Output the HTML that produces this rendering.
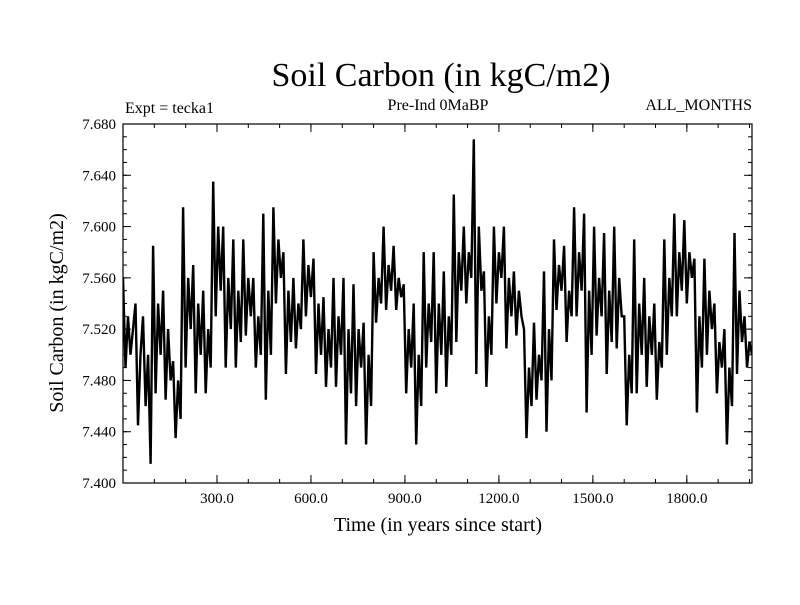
<!DOCTYPE html>
<html><head><meta charset="utf-8"><style>
html,body{margin:0;padding:0;background:#fff;}
svg text{font-family:"Liberation Serif",serif;fill:#000;}
</style></head><body>
<svg id="chart" width="800" height="600" viewBox="0 0 800 600" xmlns="http://www.w3.org/2000/svg">
<rect x="0" y="0" width="800" height="600" fill="#fff"/>
<defs><clipPath id="plotclip"><rect x="123" y="124" width="629" height="359"/></clipPath></defs>
<text x="441" y="86" font-size="34" text-anchor="middle">Soil Carbon (in kgC/m2)</text>
<text x="125" y="113" font-size="16">Expt = tecka1</text>
<text x="438" y="110" font-size="16" text-anchor="middle">Pre-Ind 0MaBP</text>
<text x="752" y="110" font-size="16" text-anchor="end">ALL_MONTHS</text>
<text x="438" y="531" font-size="20" text-anchor="middle">Time (in years since start)</text>
<text x="0" y="0" font-size="20" text-anchor="middle" transform="translate(63,313) rotate(-90)">Soil Carbon (in kgC/m2)</text>
<g id="axes"></g>
<g id="series" clip-path="url(#plotclip)"></g>
<rect x="123" y="124" width="629" height="359" fill="none" stroke="#000" stroke-width="1.2"/>
</svg>
<script>
const yTicks = [7.400, 7.440, 7.480, 7.520, 7.560, 7.600, 7.640, 7.680];
const xTicks = [300, 600, 900, 1200, 1500, 1800];
const xTickLabels = ["300.0", "600.0", "900.0", "1200.0", "1500.0", "1800.0"];
const yearStep = 8;
const values = [
7.56,7.49,7.53,7.50, 7.52,7.54,7.445,7.50, 7.53,7.46,7.50,7.415, 7.585,7.47,7.54,7.50,
7.55,7.465,7.52,7.48, 7.495,7.435,7.48,7.45, 7.615,7.49,7.56,7.52, 7.57,7.47,7.54,7.50,
7.55,7.47,7.52,7.49, 7.635,7.53,7.60,7.55, 7.60,7.49,7.56,7.52, 7.59,7.49,7.55,7.51,
7.59,7.515,7.56,7.53, 7.56,7.49,7.53,7.50, 7.61,7.465,7.55,7.50, 7.615,7.54,7.59,7.56,
7.58,7.485,7.55,7.51, 7.56,7.505,7.54,7.52, 7.59,7.53,7.57,7.545, 7.575,7.485,7.54,7.50,
7.545,7.475,7.52,7.49, 7.56,7.475,7.53,7.50, 7.56,7.43,7.52,7.47, 7.555,7.46,7.52,7.49,
7.525,7.43,7.50,7.46, 7.58,7.525,7.56,7.54, 7.60,7.535,7.57,7.55, 7.585,7.535,7.56,7.545,
7.555,7.47,7.52,7.49, 7.54,7.43,7.50,7.46, 7.58,7.49,7.54,7.51, 7.58,7.47,7.54,7.50,
7.565,7.475,7.53,7.50, 7.625,7.51,7.58,7.55, 7.60,7.54,7.58,7.56, 7.668,7.485,7.60,7.55,
7.565,7.475,7.53,7.50, 7.60,7.54,7.58,7.56, 7.60,7.505,7.56,7.53, 7.565,7.515,7.55,7.53,
7.52,7.435,7.49,7.46, 7.525,7.465,7.50,7.48, 7.565,7.44,7.52,7.48, 7.59,7.535,7.57,7.55,
7.585,7.51,7.55,7.53, 7.615,7.53,7.58,7.55, 7.61,7.455,7.55,7.50, 7.60,7.515,7.56,7.53,
7.595,7.485,7.55,7.51, 7.60,7.505,7.56,7.53, 7.53,7.445,7.50,7.47, 7.59,7.47,7.54,7.50,
7.56,7.475,7.53,7.50, 7.54,7.465,7.51,7.49, 7.59,7.50,7.56,7.53, 7.61,7.53,7.58,7.55,
7.605,7.54,7.58,7.56, 7.575,7.455,7.53,7.49, 7.575,7.50,7.55,7.52, 7.54,7.47,7.51,7.49,
7.52,7.43,7.49,7.46, 7.595,7.485,7.55,7.51, 7.53,7.49,7.51,7.50
];
const X0=123, X1=752, Y0=483, Y1=124, XMIN=0, XMAX=2008, YMIN=7.40, YMAX=7.68;
function xs(v){return X0+(v-XMIN)/(XMAX-XMIN)*(X1-X0);}
function ys(v){return Y0-(v-YMIN)/(YMAX-YMIN)*(Y0-Y1);}
const NS="http://www.w3.org/2000/svg";
const axes=document.getElementById('axes');
function line(x1,y1,x2,y2,name){
  const l=document.createElementNS(NS,'line');
  l.setAttribute('x1',x1);l.setAttribute('y1',y1);l.setAttribute('x2',x2);l.setAttribute('y2',y2);
  l.setAttribute('stroke','#000');l.setAttribute('stroke-width','1');
  
  
  axes.appendChild(l);
}
for(let v=YMIN; v<=YMAX+1e-9; v+=0.01){
  const y=ys(v);
  line(X0,y,X0+4,y,'y-minor-tick');
  line(X1,y,X1-4,y,'y-minor-tick');
}
yTicks.forEach(v=>{
  const y=ys(v);
  line(X0,y,X0+8,y,'y-major-tick');
  line(X1,y,X1-8,y,'y-major-tick');
  const t=document.createElementNS(NS,'text');
  t.setAttribute('x',116);t.setAttribute('y',y+5);t.setAttribute('font-size','15');t.setAttribute('text-anchor','end');
  t.textContent=v.toFixed(3);
  
  
  axes.appendChild(t);
});
for(let v=100; v<XMAX; v+=100){
  const x=xs(v);
  line(x,Y0,x,Y0-4,'x-minor-tick');
  line(x,Y1,x,Y1+4,'x-minor-tick');
}
xTicks.forEach((v,i)=>{
  const x=xs(v);
  line(x,Y0,x,Y0-8,'x-major-tick');
  line(x,Y1,x,Y1+8,'x-major-tick');
  const t=document.createElementNS(NS,'text');
  t.setAttribute('x',x);t.setAttribute('y',503);t.setAttribute('font-size','15');t.setAttribute('text-anchor','middle');
  t.textContent=xTickLabels[i];
  
  
  axes.appendChild(t);
});
const pts=values.map((v,i)=>xs(i*yearStep).toFixed(1)+','+ys(v).toFixed(1)).join(' ');
const pl=document.createElementNS(NS,'polyline');
pl.setAttribute('points',pts);pl.setAttribute('fill','none');pl.setAttribute('stroke','#000');
pl.setAttribute('stroke-width','2.4');pl.setAttribute('stroke-linejoin','miter');


document.getElementById('series').appendChild(pl);
</script>
</body></html>
